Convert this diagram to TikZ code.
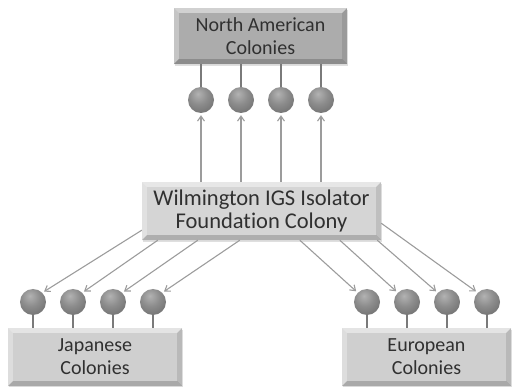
\documentclass[tikz,border=0pt]{standalone}
\usepackage{fontspec}
\setmainfont[Ligatures=NoCommon]{Carlito}
\usepackage{tikz}
\usetikzlibrary{calc,arrows.meta,shadows}

\definecolor{arrowgray}{HTML}{9C9C9C}
\definecolor{stemgray}{HTML}{7A7A7A}
\definecolor{textgray}{HTML}{303030}

% soft grey ball
\pgfdeclareradialshading{softball}{\pgfpoint{-6bp}{12bp}}{%
    color(0bp)=(black!30); color(18bp)=(black!45); color(40bp)=(black!58);
    color(60bp)=(black!64); color(100bp)=(black!64)}

% bevelled edges of a colony box
\newcommand{\bevelbox}[1]{%
    \fill[white, opacity=0.45] (#1.north west) -- (#1.north east)
        -- ($(#1.north east)+(-5,5)$) -- ($(#1.north west)+(5,5)$) -- cycle;
    \fill[white, opacity=0.3] (#1.north west) -- (#1.south west)
        -- ($(#1.south west)+(5,-5)$) -- ($(#1.north west)+(5,5)$) -- cycle;
    \fill[black, opacity=0.18] (#1.south west) -- (#1.south east)
        -- ($(#1.south east)+(-5,-5)$) -- ($(#1.south west)+(5,-5)$) -- cycle;
    \fill[black, opacity=0.1] (#1.north east) -- (#1.south east)
        -- ($(#1.south east)+(-5,-5)$) -- ($(#1.north east)+(-5,5)$) -- cycle;
}

\begin{document}
\begin{tikzpicture}[x=1pt, y=-1pt]
    \useasboundingbox (0,0) rectangle (514,387);

    % --- DEFINE STYLES ---
    % Style for the colony boxes
    \tikzstyle{colony} = [rectangle, inner sep=0pt, align=center, text=textgray,
        font=\fontsize{20}{23}\selectfont,
        drop shadow={shadow xshift=1pt, shadow yshift=-2pt, opacity=0.25}]
    % Style for the transfer balls
    \tikzstyle{ball} = [circle, inner sep=0pt, minimum size=26pt, shading=softball]
    % Style for stems and arrows
    \tikzstyle{stem} = [stemgray, line width=1.8pt]
    \tikzstyle{transfer} = [arrowgray, line width=1.1pt, -{Straight Barb[length=5pt, width=7pt]}, shorten >=2pt]

    % --- DRAW COLONIES ---
    \node[colony, fill=gray!65, minimum width=173pt, minimum height=56pt] (north) at (260.5,36)
        {North American\\Colonies};
    \node[colony, fill=gray!33, minimum width=239pt, minimum height=58pt,
        font=\fontsize{22.5}{22.5}\selectfont] (found) at (261.5,211)
        {Wilmington IGS Isolator\\Foundation Colony};
    \node[colony, fill=gray!38, minimum width=174pt, minimum height=58pt] (japan) at (95,357)
        {Japanese\\Colonies};
    \node[colony, fill=gray!38, minimum width=169pt, minimum height=58pt] (europe) at (426.5,357)
        {European\\Colonies};
    \foreach \b in {north,found,japan,europe} {
        \bevelbox{\b}
    }

    % --- DRAW BALLS ---
    \foreach \x [count=\i] in {201,241,281,321} {
        \node[ball] (n\i) at (\x,100) {};
        \draw[stem] (n\i.north) -- (n\i.north |- north.south);
        \draw[transfer] (n\i.south |- found.north) -- (n\i);
    }
    \foreach \x [count=\i] in {33,73,113,153} {
        \node[ball] (j\i) at (\x,302) {};
        \draw[stem] (j\i.south) -- (j\i.south |- japan.north);
    }
    \foreach \x [count=\i] in {367,407,447,487} {
        \node[ball] (e\i) at (\x,302) {};
        \draw[stem] (e\i.south) -- (e\i.south |- europe.north);
    }

    % start points on the foundation colony
    \coordinate (sj1) at ($(found.south west)+(0,-10)$);
    \coordinate (sj2) at ($(found.south west)+(16,0)$);
    \coordinate (sj3) at ($(found.south west)+(56,0)$);
    \coordinate (sj4) at ($(found.south west)+(98,0)$);
    \coordinate (se1) at ($(found.south west)+(158,0)$);
    \coordinate (se2) at ($(found.south west)+(198,0)$);
    \coordinate (se3) at ($(found.south east)+(-4,0)$);
    \coordinate (se4) at ($(found.south east)+(0,-17)$);

    % --- DRAW TRANSFERS ---
    \foreach \i in {1,...,4} {
        \draw[transfer] (sj\i) -- (j\i.north east);
        \draw[transfer] (se\i) -- (e\i.north west);
    }
\end{tikzpicture}
\end{document}
